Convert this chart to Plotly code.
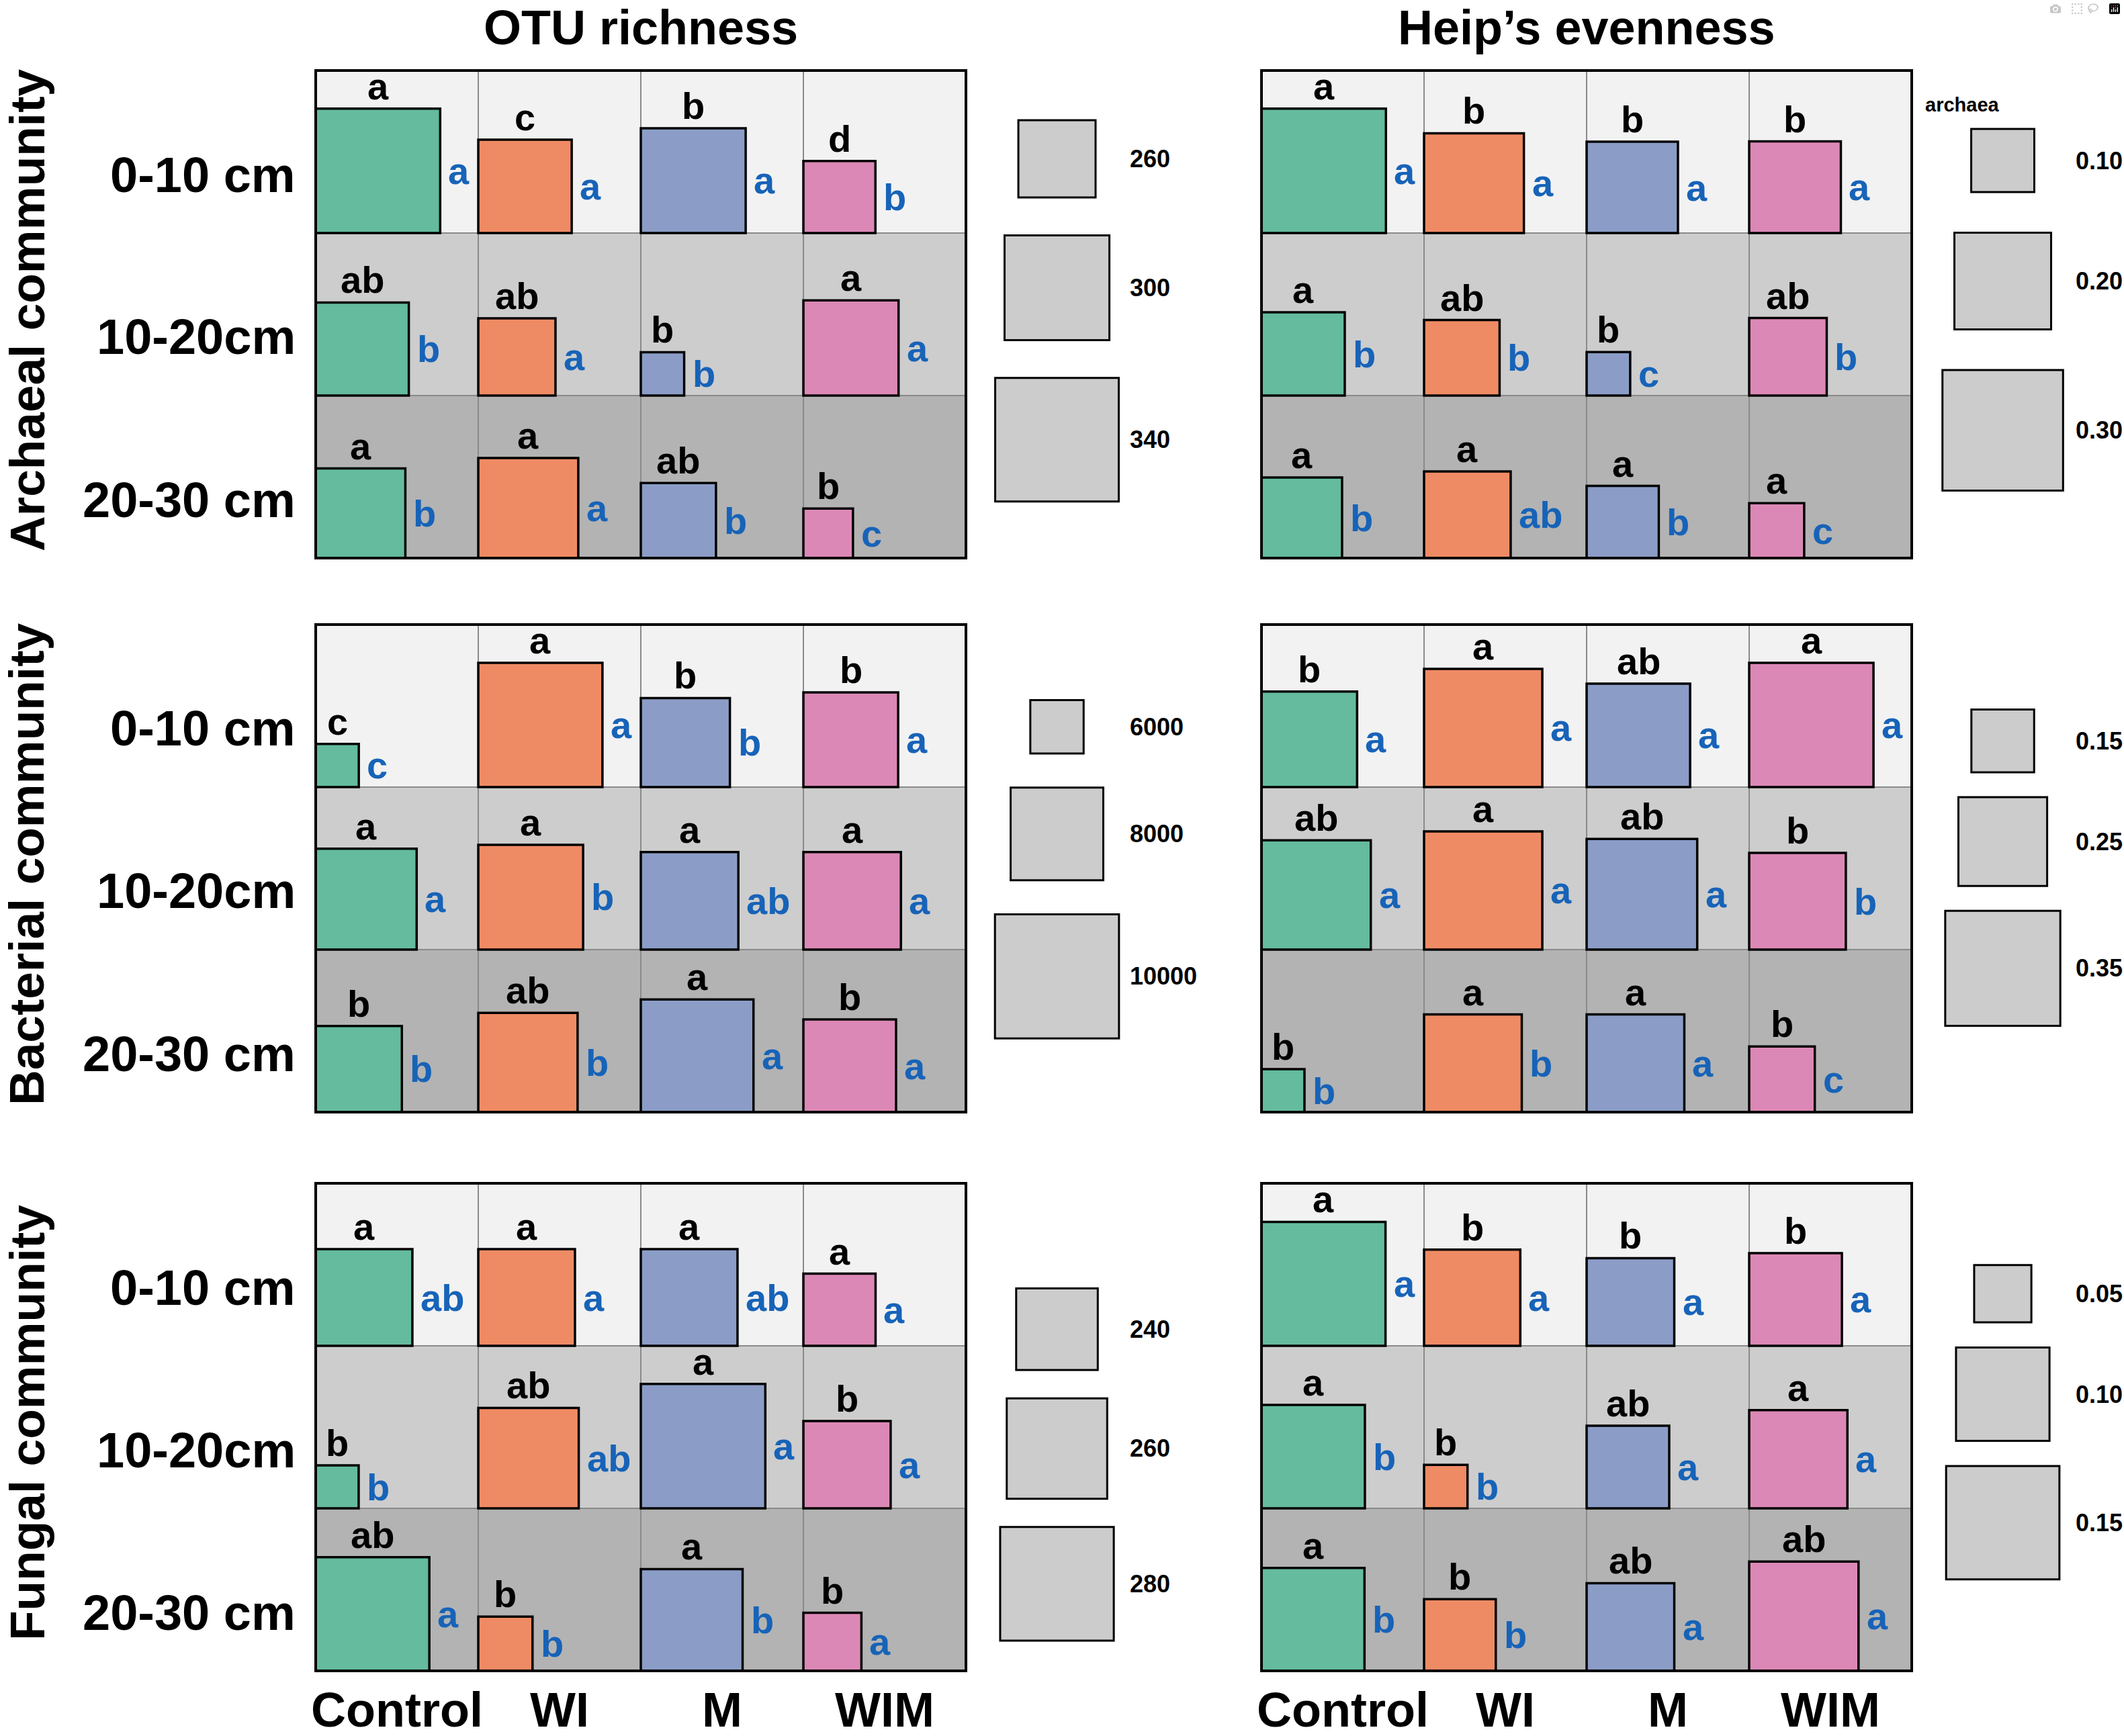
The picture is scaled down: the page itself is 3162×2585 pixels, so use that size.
import plotly.graph_objects as go

treatments = ["Control", "WI", "M", "WIM"]
depths = ["0-10 cm", "10-20cm", "20-30 cm"]
communities = ["Archaeal community", "Bacterial community", "Fungal community"]
metrics = ["OTU richness", "Heip’s evenness"]

# rows = depth (0-10, 10-20, 20-30), columns = treatment (Control, WI, M, WIM)
arch_otu = [[342, 283.5, 300, 252.5],
            [283, 260, 211, 286],
            [278, 293, 257, 220]]
arch_otu_top = [["a", "c", "b", "d"], ["ab", "ab", "b", "a"], ["a", "a", "ab", "b"]]
arch_otu_side = [["a", "a", "a", "b"], ["b", "a", "b", "a"], ["b", "a", "b", "c"]]
arch_otu_legend = [260, 300, 340]

arch_heip = [[0.316, 0.213, 0.184, 0.185],
             [0.160, 0.137, 0.042, 0.143],
             [0.152, 0.170, 0.127, 0.076]]
arch_heip_top = [["a", "b", "b", "b"], ["a", "ab", "b", "ab"], ["a", "a", "a", "a"]]
arch_heip_side = [["a", "a", "a", "a"], ["b", "b", "c", "b"], ["b", "ab", "b", "c"]]
arch_heip_legend = [0.10, 0.20, 0.30]

bact_otu = [[5480, 10010, 7818, 8135],
            [8528, 8777, 8311, 8311],
            [7669, 8425, 9275, 8000]]
bact_otu_top = [["c", "a", "b", "b"], ["a", "a", "a", "a"], ["b", "ab", "a", "b"]]
bact_otu_side = [["c", "a", "b", "a"], ["a", "b", "ab", "a"], ["b", "b", "a", "a"]]
bact_otu_legend = [6000, 8000, 10000]

bact_heip = [[0.276, 0.362, 0.306, 0.385],
             [0.328, 0.362, 0.333, 0.280],
             [0.074, 0.284, 0.284, 0.161]]
bact_heip_top = [["b", "a", "ab", "a"], ["ab", "a", "ab", "b"], ["b", "a", "a", "b"]]
bact_heip_side = [["a", "a", "a", "a"], ["a", "a", "a", "b"], ["b", "b", "a", "c"]]
bact_heip_legend = [0.15, 0.25, 0.35]

fung_otu = [[256, 256, 256, 230],
            [199, 260, 296.5, 246],
            [280, 211, 262, 215]]
fung_otu_top = [["a", "a", "a", "a"], ["b", "ab", "a", "b"], ["ab", "b", "a", "b"]]
fung_otu_side = [["ab", "a", "ab", "a"], ["b", "ab", "a", "a"], ["a", "b", "b", "a"]]
fung_otu_legend = [240, 260, 280]

fung_heip = [[0.177, 0.107, 0.092, 0.099],
             [0.125, 0.031, 0.085, 0.112],
             [0.124, 0.070, 0.092, 0.140]]
fung_heip_top = [["a", "b", "b", "b"], ["a", "b", "ab", "a"], ["a", "b", "ab", "ab"]]
fung_heip_side = [["a", "a", "a", "a"], ["b", "b", "a", "a"], ["b", "b", "a", "a"]]
fung_heip_legend = [0.05, 0.10, 0.15]

# size scale: square side (fraction of a cell) at each legend break,
# plus where the legend stack starts and the gap between its squares
panels = [
    dict(vals=arch_otu, top=arch_otu_top, side=arch_otu_side, legend=arch_otu_legend,
         sides=[0.475, 0.645, 0.76], ltop=0.306, lgap=0.233, fmt="{:.0f}"),
    dict(vals=arch_heip, top=arch_heip_top, side=arch_heip_side, legend=arch_heip_legend,
         sides=[0.388, 0.595, 0.742], ltop=0.36, lgap=0.25, fmt="{:.2f}"),
    dict(vals=bact_otu, top=bact_otu_top, side=bact_otu_side, legend=bact_otu_legend,
         sides=[0.328, 0.57, 0.763], ltop=0.465, lgap=0.21, fmt="{:.0f}"),
    dict(vals=bact_heip, top=bact_heip_top, side=bact_heip_side, legend=bact_heip_legend,
         sides=[0.386, 0.546, 0.708], ltop=0.523, lgap=0.153, fmt="{:.2f}"),
    dict(vals=fung_otu, top=fung_otu_top, side=fung_otu_side, legend=fung_otu_legend,
         sides=[0.502, 0.618, 0.699], ltop=0.647, lgap=0.174, fmt="{:.0f}"),
    dict(vals=fung_heip, top=fung_heip_top, side=fung_heip_side, legend=fung_heip_legend,
         sides=[0.352, 0.575, 0.697], ltop=0.503, lgap=0.155, fmt="{:.2f}"),
]


def side_of(v, breaks, sides):
    # piecewise linear through the legend breaks, extended past both ends
    if v <= breaks[1]:
        return sides[0] + (v - breaks[0]) * (sides[1] - sides[0]) / (breaks[1] - breaks[0])
    return sides[1] + (v - breaks[1]) * (sides[2] - sides[1]) / (breaks[2] - breaks[1])


W, H = 3162, 2585
CELL = 242
LEFTS = [470, 1878]
TOPS = [105, 930, 1762]
PAD = 0.05
XMAX = 5.0
LEG_X = 4.56

row_fill = ["#f2f2f2", "#cdcdcd", "#b3b3b3"]
box_colors = ["#64bb9e", "#ef8b64", "#8b9dc7", "#dc88b6"]
BLUE = "#1763b8"
FONT = "Liberation Sans, Arial, sans-serif"


def font(size, color="black"):
    return dict(family=FONT, size=size, color=color, weight="bold")


fig = go.Figure()
shapes, annotations = [], []

for k, p in enumerate(panels):
    r, c = divmod(k, 2)
    n = k + 1
    xa = "x" if n == 1 else f"x{n}"
    ya = "y" if n == 1 else f"y{n}"
    left, top = LEFTS[c], TOPS[r]
    fig.update_layout(**{
        ("xaxis" if n == 1 else f"xaxis{n}"): dict(
            domain=[(left - PAD * CELL) / W, (left + XMAX * CELL) / W],
            range=[-PAD, XMAX], visible=False, anchor=ya, fixedrange=True),
        ("yaxis" if n == 1 else f"yaxis{n}"): dict(
            domain=[1 - (top + (3 + PAD) * CELL) / H, 1 - (top - PAD * CELL) / H],
            range=[-PAD, 3 + PAD], visible=False, anchor=xa, fixedrange=True),
    })

    hx, hy, ht = [], [], []
    for i in range(3):
        y0 = 2 - i
        for j in range(4):
            shapes.append(dict(type="rect", xref=xa, yref=ya, x0=j, x1=j + 1, y0=y0, y1=y0 + 1,
                               fillcolor=row_fill[i], line=dict(color="#8a8a8a", width=2)))
    for i in range(3):
        y0 = 2 - i
        for j in range(4):
            v = p["vals"][i][j]
            s = side_of(v, p["legend"], p["sides"])
            shapes.append(dict(type="rect", xref=xa, yref=ya, x0=j, x1=j + s, y0=y0, y1=y0 + s,
                               fillcolor=box_colors[j], line=dict(color="black", width=3.5)))
            annotations.append(dict(xref=xa, yref=ya, x=j + s / 2, y=y0 + s, text=p["top"][i][j],
                                    showarrow=False, xanchor="center", yanchor="bottom",
                                    font=font(56)))
            annotations.append(dict(xref=xa, yref=ya, x=j + s, y=y0 + s / 2, text=p["side"][i][j],
                                    showarrow=False, xanchor="left", yanchor="middle", xshift=10,
                                    font=font(56, BLUE)))
            hx.append(j + s / 2)
            hy.append(y0 + s / 2)
            ht.append(f"{communities[r]}<br>{metrics[c]}<br>{depths[i]}, {treatments[j]}: {v}")
    shapes.append(dict(type="rect", xref=xa, yref=ya, x0=0, x1=4, y0=0, y1=3,
                       line=dict(color="black", width=4)))

    yt = 3 - p["ltop"]
    for b in p["legend"]:
        s = side_of(b, p["legend"], p["sides"])
        shapes.append(dict(type="rect", xref=xa, yref=ya, x0=LEG_X - s / 2, x1=LEG_X + s / 2,
                           y0=yt - s, y1=yt, fillcolor="#cccccc", line=dict(color="black", width=3)))
        annotations.append(dict(xref=xa, yref=ya, x=5.0, y=yt - s / 2, text=p["fmt"].format(b),
                                showarrow=False, xanchor="left", yanchor="middle", font=font(36)))
        yt -= s + p["lgap"]

    fig.add_trace(go.Scatter(x=hx, y=hy, xaxis=xa, yaxis=ya, mode="markers",
                             marker=dict(size=20, opacity=0), hovertext=ht,
                             hoverinfo="text", showlegend=False))

# column titles and treatment labels
for c in range(2):
    left = LEFTS[c]
    annotations.append(dict(xref="paper", yref="paper", x=(left + 2 * CELL) / W, y=1 - 41 / H,
                            text=metrics[c], showarrow=False, xanchor="center", yanchor="middle",
                            font=font(72)))
    for j, t in enumerate(treatments):
        annotations.append(dict(xref="paper", yref="paper", x=(left + (j + 0.5) * CELL) / W,
                                y=1 - 2546 / H, text=t, showarrow=False, xanchor="center",
                                yanchor="middle", font=font(72)))

# depth labels and community labels
for r, top in enumerate(TOPS):
    for i, d in enumerate(depths):
        annotations.append(dict(xref="paper", yref="paper", x=442 / W,
                                y=1 - (top + (i + 0.5) * CELL + 34) / H, text=d, showarrow=False,
                                xanchor="right", yanchor="middle", font=font(74)))
    annotations.append(dict(xref="paper", yref="paper", x=40 / W, y=1 - (top + 1.5 * CELL - 6) / H,
                            text=communities[r], textangle=-90, showarrow=False,
                            xanchor="center", yanchor="middle", font=font(73)))

annotations.append(dict(xref="x2", yref="y2", x=4.31, y=3 - 0.21, text="archaea", showarrow=False,
                        xanchor="center", yanchor="middle", font=font(29)))

fig.update_layout(
    width=W, height=H, autosize=False,
    margin=dict(l=0, r=0, t=0, b=0),
    paper_bgcolor="white", plot_bgcolor="white",
    showlegend=False,
    shapes=shapes, annotations=annotations,
)

fig.write_html("out.html", post_script="document.body.style.margin='0px';")
